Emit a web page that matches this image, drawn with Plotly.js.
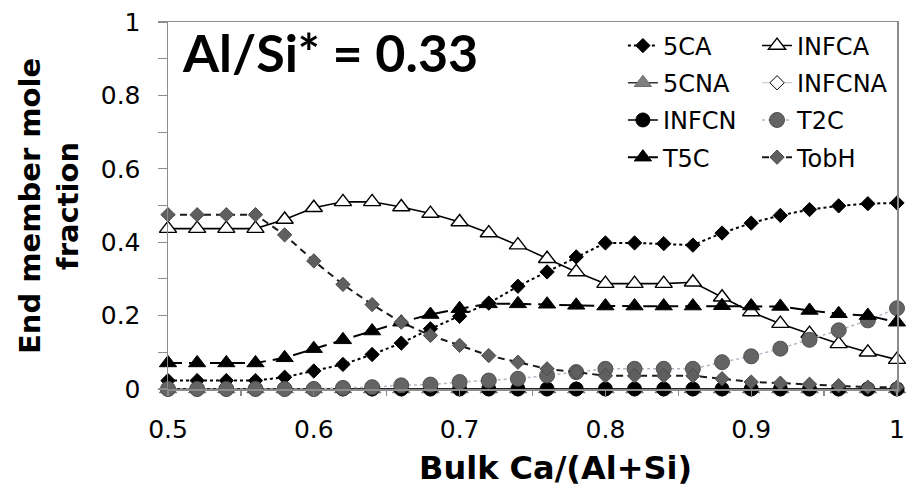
<!DOCTYPE html>
<html>
<head>
<meta charset="utf-8">
<script src="https://cdn.plot.ly/plotly-3.0.1.min.js"></script>
<style>
  html, body { margin: 0; padding: 0; background: #fff; }
  #chart { width: 912px; height: 486px; }
</style>
</head>
<body>
<div id="chart"></div>
<script>
// Bulk Ca/(Al+Si) composition steps
const bulkCa = [0.50, 0.52, 0.54, 0.56, 0.58, 0.60, 0.62, 0.64, 0.66, 0.68, 0.70, 0.72, 0.74,
                0.76, 0.78, 0.80, 0.82, 0.84, 0.86, 0.88, 0.90, 0.92, 0.94, 0.96, 0.98, 1.00];

// End member mole fractions
const y5CA    = [0.023, 0.023, 0.023, 0.023, 0.032, 0.049, 0.067, 0.094, 0.125, 0.164, 0.198, 0.234, 0.280,
                 0.319, 0.360, 0.398, 0.398, 0.396, 0.392, 0.425, 0.452, 0.473, 0.489, 0.499, 0.505, 0.507];
const yINFCA  = [0.437, 0.437, 0.437, 0.437, 0.462, 0.494, 0.510, 0.510, 0.496, 0.478, 0.455, 0.425, 0.392,
                 0.355, 0.319, 0.287, 0.287, 0.287, 0.291, 0.250, 0.210, 0.178, 0.151, 0.123, 0.100, 0.080];
const y5CNA   = [0, 0, 0, 0, 0, 0, 0, 0, 0, 0, 0, 0, 0, 0, 0, 0, 0, 0, 0, 0, 0, 0, 0, 0, 0, 0];
const yINFCNA = [0, 0, 0, 0, 0, 0, 0, 0, 0, 0, 0, 0, 0, 0, 0, 0, 0, 0, 0, 0, 0, 0, 0, 0, 0, 0];
const yINFCN  = [0, 0, 0, 0, 0, 0, 0, 0, 0, 0, 0, 0, 0, 0, 0, 0, 0, 0, 0, 0, 0, 0, 0, 0, 0, 0];
const yT2C    = [0, 0, 0, 0, 0, 0, 0.003, 0.005, 0.010, 0.012, 0.019, 0.023, 0.028,
                 0.037, 0.046, 0.055, 0.055, 0.055, 0.055, 0.073, 0.089, 0.110, 0.134, 0.160, 0.187, 0.220];
const yT5C    = [0.071, 0.071, 0.071, 0.071, 0.085, 0.110, 0.134, 0.158, 0.182, 0.203, 0.219, 0.232, 0.232,
                 0.231, 0.228, 0.226, 0.226, 0.226, 0.226, 0.227, 0.226, 0.225, 0.214, 0.205, 0.200, 0.182];
const yTobH   = [0.475, 0.475, 0.475, 0.475, 0.420, 0.349, 0.285, 0.230, 0.182, 0.146, 0.119, 0.091, 0.073,
                 0.055, 0.046, 0.036, 0.036, 0.036, 0.036, 0.028, 0.019, 0.016, 0.013, 0.009, 0.005, 0.005];

const seriesNames = ['5CA', 'INFCA', '5CNA', 'INFCNA', 'INFCN', 'T2C', 'T5C', 'TobH'];
const seriesValues = [y5CA, yINFCA, y5CNA, yINFCNA, yINFCN, yT2C, yT5C, yTobH];

// Drawing style of each end member
const styles = {
  '5CA':    { legend: 'legend',  line: { color: '#000', width: 2, dash: 'dot' },
              marker: { symbol: 'diamond', size: 11, color: '#000', line: { color: '#000', width: 1 } } },
  'INFCA':  { legend: 'legend2', line: { color: '#000', width: 1.6, dash: 'solid' },
              marker: { symbol: 'triangle-up', size: 15, color: '#fff', line: { color: '#000', width: 1.4 } } },
  '5CNA':   { legend: 'legend',  line: { color: '#333', width: 1.5, dash: 'solid' },
              marker: { symbol: 'triangle-up', size: 15, color: '#7f7f7f', line: { color: '#6a6a6a', width: 1 } } },
  'INFCNA': { legend: 'legend2', line: { color: '#bfbfbf', width: 1, dash: 'solid' },
              marker: { symbol: 'diamond', size: 11, color: '#fff', line: { color: '#000', width: 1 } } },
  'INFCN':  { legend: 'legend',  line: { color: '#000', width: 1.5, dash: 'solid' },
              marker: { symbol: 'circle', size: 14, color: '#000', line: { color: '#000', width: 1 } } },
  'T2C':    { legend: 'legend2', line: { color: '#b4b4c4', width: 1.5, dash: 'dot' },
              marker: { symbol: 'circle', size: 15, color: '#646464', line: { color: '#505050', width: 1 } } },
  'T5C':    { legend: 'legend',  line: { color: '#000', width: 2, dash: '14px,7px' },
              marker: { symbol: 'triangle-up', size: 15, color: '#000', line: { color: '#000', width: 1 } } },
  'TobH':   { legend: 'legend2', line: { color: '#1a1a1a', width: 2, dash: '7px,5px' },
              marker: { symbol: 'diamond', size: 11, color: '#5f5f5f', line: { color: '#4a4a4a', width: 1 } } }
};

const traces = seriesNames.map((name, i) => ({
  type: 'scatter',
  mode: 'lines+markers',
  name: name,
  x: bulkCa,
  y: seriesValues[i],
  legend: styles[name].legend,
  legendgroup: name,
  line: styles[name].line,
  marker: styles[name].marker,
  cliponaxis: false
}));

const axisColor = '#8c8c8c';
const legendFont = { family: 'DejaVu Sans', size: 24, color: '#000' };
const legendBase = {
  xanchor: 'left', yanchor: 'top', y: 0.996,
  bgcolor: 'rgba(0,0,0,0)', borderwidth: 0,
  font: legendFont, traceorder: 'grouped', tracegroupgap: 3, itemwidth: 30
};

const layout = {
  width: 912, height: 486,
  margin: { l: 168, r: 15, t: 22, b: 97, pad: 0 },
  paper_bgcolor: '#fff', plot_bgcolor: '#fff',
  font: { family: 'DejaVu Sans', color: '#000' },
  showlegend: true,
  legend:  Object.assign({}, legendBase, { x: 0.624 }),
  legend2: Object.assign({}, legendBase, { x: 0.808 }),
  xaxis: {
    range: [0.5, 1.0], dtick: 0.1, tick0: 0.5,
    showgrid: false, zeroline: false,
    showline: true, mirror: true, linecolor: axisColor, linewidth: 1.5,
    ticks: 'outside', ticklen: 5, tickcolor: axisColor, tickwidth: 1.2,
    minor: { dtick: 0.05, ticks: 'outside', ticklen: 5, tickcolor: axisColor, tickwidth: 1.2 },
    ticklabelstandoff: 12,
    tickfont: { family: 'DejaVu Sans', size: 25, color: '#000' }
  },
  yaxis: {
    range: [0, 1], dtick: 0.2, tick0: 0,
    showgrid: false, zeroline: false,
    showline: true, mirror: true, linecolor: axisColor, linewidth: 1.5,
    ticks: 'outside', ticklen: 9, tickcolor: axisColor, tickwidth: 1.2,
    minor: { dtick: 0.1, ticks: 'outside', ticklen: 9, tickcolor: axisColor, tickwidth: 1.2 },
    ticklabelstandoff: 12,
    tickfont: { family: 'DejaVu Sans', size: 25, color: '#000' }
  },
  annotations: [
    { text: 'Al/Si* = 0.33', xref: 'paper', yref: 'paper', x: 0.016, y: 0.918,
      xanchor: 'left', yanchor: 'middle', showarrow: false,
      font: { family: 'Lato', size: 52, color: '#000', weight: 'bold' } },
    { text: 'Bulk Ca/(Al+Si)', xref: 'paper', yref: 'paper', x: 0.531, y: -0.214,
      xanchor: 'center', yanchor: 'middle', showarrow: false,
      font: { family: 'DejaVu Sans', size: 32, color: '#000', weight: 'bold' } },
    { text: 'End member mole<br>fraction', xref: 'paper', yref: 'paper', x: -0.164, y: 0.5,
      xanchor: 'center', yanchor: 'middle', showarrow: false, textangle: -90,
      font: { family: 'DejaVu Sans', size: 29, color: '#000', weight: 'bold' } }
  ]
};

Plotly.newPlot('chart', traces, layout, { displayModeBar: false, staticPlot: true });
</script>
</body>
</html>
